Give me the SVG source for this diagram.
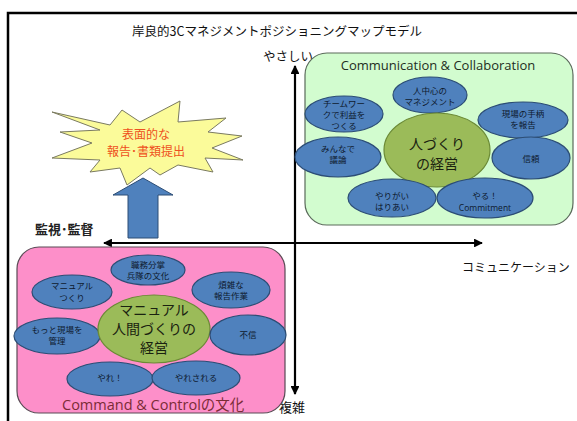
<svg xmlns="http://www.w3.org/2000/svg" width="577" height="421" viewBox="0 0 577 421">
<style>
.jp{font-family:"Noto Sans CJK JP","Noto Sans",sans-serif;}
.en{font-family:"Open Sans","Liberation Sans",sans-serif;}
.be{fill:#4f81bd;stroke:#2c4d75;stroke-width:1.2;}
.ge{fill:#9bbb59;stroke:#6b8a35;stroke-width:1.2;}
.st{font-size:8.5px;fill:#0e1a2e;text-anchor:middle;}
.bt{font-size:14px;fill:#1a2210;text-anchor:middle;}
.ax{stroke:#000;stroke-width:2.2;fill:none;}
</style>
<defs>
<marker id="ah" viewBox="0 0 10 10" refX="9" refY="5" markerWidth="4" markerHeight="4" orient="auto-start-reverse">
<path d="M0,0 L10,5 L0,10 z" fill="#000"/>
</marker>
</defs>
<rect x="0" y="0" width="577" height="421" fill="#fff"/>
<path d="M8,421 V13 H577" fill="none" stroke="#000" stroke-width="2.5"/>
<text class="jp" x="277" y="36" font-size="12.5" text-anchor="middle" fill="#111">岸良的3Cマネジメントポジショニングマップモデル</text>

<g id="axes">
<line class="ax" x1="295" y1="394" x2="295" y2="66" marker-start="url(#ah)" marker-end="url(#ah)"/>
<line class="ax" x1="104" y1="243" x2="482" y2="243" marker-start="url(#ah)" marker-end="url(#ah)"/>
</g>
<text class="jp" x="263" y="61" font-size="12.5" fill="#111">やさしい</text>
<text class="jp" x="279" y="412" font-size="13" fill="#111">複雑</text>
<text class="jp" x="35" y="234" font-size="13" font-weight="bold" fill="#222">監視･監督</text>
<text class="jp" x="462" y="272" font-size="12" fill="#111">コミュニケーション</text>

<g id="burst">
<polygon points="52,112 110,125 122,110 140,122 180,101 178,122 226,118 208,132 242,136 212,148 243,160 205,158 213,172 178,165 160,175 150,168 127,185 120,168 90,172 100,160 52,158 92,143 60,132 100,130" fill="#fbfb9a" stroke="#7a7a60" stroke-width="1"/>
<text class="jp" x="146" y="139" font-size="12" text-anchor="middle" fill="#ee5020">表面的な</text>
<text class="jp" x="146" y="156" font-size="12" text-anchor="middle" fill="#ee5020">報告･書類提出</text>
</g>

<g id="up-arrow">
<polygon points="143,178 173,195 158,195 158,238 128,238 128,195 113,195" fill="#4f81bd" stroke="#2c4d75" stroke-width="1"/>
</g>

<g id="collab">
<rect x="305" y="53" width="268" height="172" rx="22" fill="#d2fccf" stroke="#5a6a5a" stroke-width="1.2"/>
<text class="en" x="438" y="70" font-size="13" text-anchor="middle" fill="#1e2e1e">Communication &amp; Collaboration</text>
<g id="c1"><ellipse class="be" cx="430" cy="95" rx="37" ry="18"/><text class="jp st" x="430" y="94">人中心の</text><text class="jp st" x="430" y="105">マネジメント</text></g>
<g id="c2"><ellipse class="be" cx="344" cy="114" rx="39" ry="18"/><text class="jp st" x="344" y="107">チームワー</text><text class="jp st" x="344" y="118">クで利益を</text><text class="jp st" x="344" y="129">つくる</text></g>
<g id="c3"><ellipse class="be" cx="523" cy="120" rx="45" ry="18"/><text class="jp st" x="523" y="117">現場の手柄</text><text class="jp st" x="523" y="128">を報告</text></g>
<g id="c4"><ellipse class="be" cx="338" cy="157" rx="43" ry="20"/><text class="jp st" x="338" y="152">みんなで</text><text class="jp st" x="338" y="163">議論</text></g>
<g id="c5"><ellipse class="ge" cx="437" cy="150" rx="53" ry="37"/><text class="jp bt" x="437" y="149">人づくり</text><text class="jp bt" x="437" y="169">の経営</text></g>
<g id="c6"><ellipse class="be" cx="531" cy="158" rx="39" ry="21"/><text class="jp st" x="531" y="162">信頼</text></g>
<g id="c7"><ellipse class="be" cx="392" cy="198" rx="44" ry="19"/><text class="jp st" x="392" y="199">やりがい</text><text class="jp st" x="392" y="210">はりあい</text></g>
<g id="c8"><ellipse class="be" cx="485" cy="198" rx="48" ry="20"/><text class="jp st" x="485" y="199">やる！</text><text class="en st" x="485" y="211" font-size="8.5">Commitment</text></g>
</g>

<g id="command">
<rect x="17" y="247" width="268" height="166" rx="22" fill="#fd8fc9" stroke="#5a4a55" stroke-width="1.2"/>
<text class="en" x="62" y="410" font-size="14.5" fill="#7b2c36">Command &amp; Control<tspan class="jp">の文化</tspan></text>
<g id="p1"><ellipse class="be" cx="148" cy="270" rx="37" ry="15"/><text class="jp st" x="148" y="268">職務分掌</text><text class="jp st" x="148" y="279">兵隊の文化</text></g>
<g id="p2"><ellipse class="be" cx="72" cy="292" rx="40" ry="17"/><text class="jp st" x="72" y="289">マニュアル</text><text class="jp st" x="72" y="301">つくり</text></g>
<g id="p3"><ellipse class="be" cx="231" cy="290" rx="39" ry="18"/><text class="jp st" x="231" y="288">煩雑な</text><text class="jp st" x="231" y="299">報告作業</text></g>
<g id="p4"><ellipse class="be" cx="57" cy="336" rx="43" ry="18"/><text class="jp st" x="57" y="333">もっと現場を</text><text class="jp st" x="57" y="344">管理</text></g>
<g id="p5"><ellipse class="ge" cx="154" cy="329" rx="56" ry="34"/><text class="jp bt" x="154" y="315" font-size="13">マニュアル</text><text class="jp bt" x="154" y="334" font-size="13">人間づくりの</text><text class="jp bt" x="154" y="353" font-size="13">経営</text></g>
<g id="p6"><ellipse class="be" cx="248" cy="335" rx="38" ry="20"/><text class="jp st" x="248" y="338">不信</text></g>
<g id="p7"><ellipse class="be" cx="110" cy="379" rx="43" ry="17"/><text class="jp st" x="110" y="381">やれ！</text></g>
<g id="p8"><ellipse class="be" cx="196" cy="378" rx="44" ry="17"/><text class="jp st" x="196" y="381">やれされる</text></g>
</g>
</svg>
